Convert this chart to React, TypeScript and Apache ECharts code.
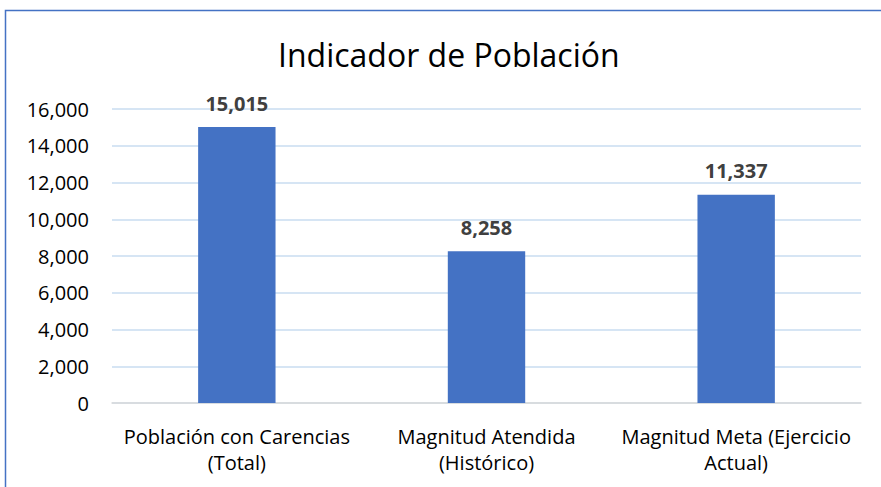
import React, { useEffect, useRef } from "react";
import * as echarts from "echarts";

const categories = [
  "Población con Carencias\n(Total)",
  "Magnitud Atendida\n(Histórico)",
  "Magnitud Meta (Ejercicio\nActual)",
];
const values = [15015, 8258, 11337];
const titleText = "Indicador de Población";

export default function App() {
  const ref = useRef<HTMLDivElement>(null);
  useEffect(() => {
    const chart = echarts.init(ref.current!, null, { renderer: "svg" });
    const font = "'Open Sans', sans-serif";
    chart.setOption({
      animation: false,
      backgroundColor: "#ffffff",
      title: {
        text: titleText,
        left: 273,
        top: 33,
        textStyle: { fontFamily: font, fontSize: 32, fontWeight: "normal", color: "#000000" },
      },
      graphic: [
        {
          type: "rect",
          shape: { x: 5.5, y: 10.5, width: 900, height: 600 },
          style: { fill: "none", stroke: "#4472C4", lineWidth: 1.5 },
          silent: true,
        },
      ],
      grid: { left: 112, right: 20, top: 109, bottom: 84 },
      xAxis: {
        type: "category",
        data: categories,
        axisLine: { show: true, lineStyle: { color: "#d9d9d9", width: 1.5 } },
        axisTick: { show: false },
        axisLabel: {
          fontFamily: font,
          fontSize: 20,
          color: "#000000",
          margin: 20,
          lineHeight: 26,
          interval: 0,
        },
      },
      yAxis: {
        type: "value",
        min: 0,
        max: 16000,
        interval: 2000,
        axisLine: { show: false },
        axisTick: { show: false },
        splitLine: { lineStyle: { color: "#c9dcf0", width: 1.5 } },
        axisLabel: {
          fontFamily: font,
          fontSize: 20,
          color: "#000000",
          margin: 23,
          formatter: (v: number) => v.toLocaleString("en-US"),
        },
      },
      series: [
        {
          type: "bar",
          data: values,
          barWidth: "31%",
          itemStyle: { color: "#4472C4" },
          label: {
            show: true,
            position: "top",
            distance: 14,
            fontFamily: font,
            fontSize: 20,
            fontWeight: "bold",
            color: "#404040",
            formatter: (p: any) => Number(p.value).toLocaleString("en-US"),
          },
        },
      ],
    });
    return () => chart.dispose();
  }, []);
  return (
    <div
      ref={ref}
      style={{ position: "absolute", left: 0, top: 0, width: 881, height: 487 }}
    />
  );
}
